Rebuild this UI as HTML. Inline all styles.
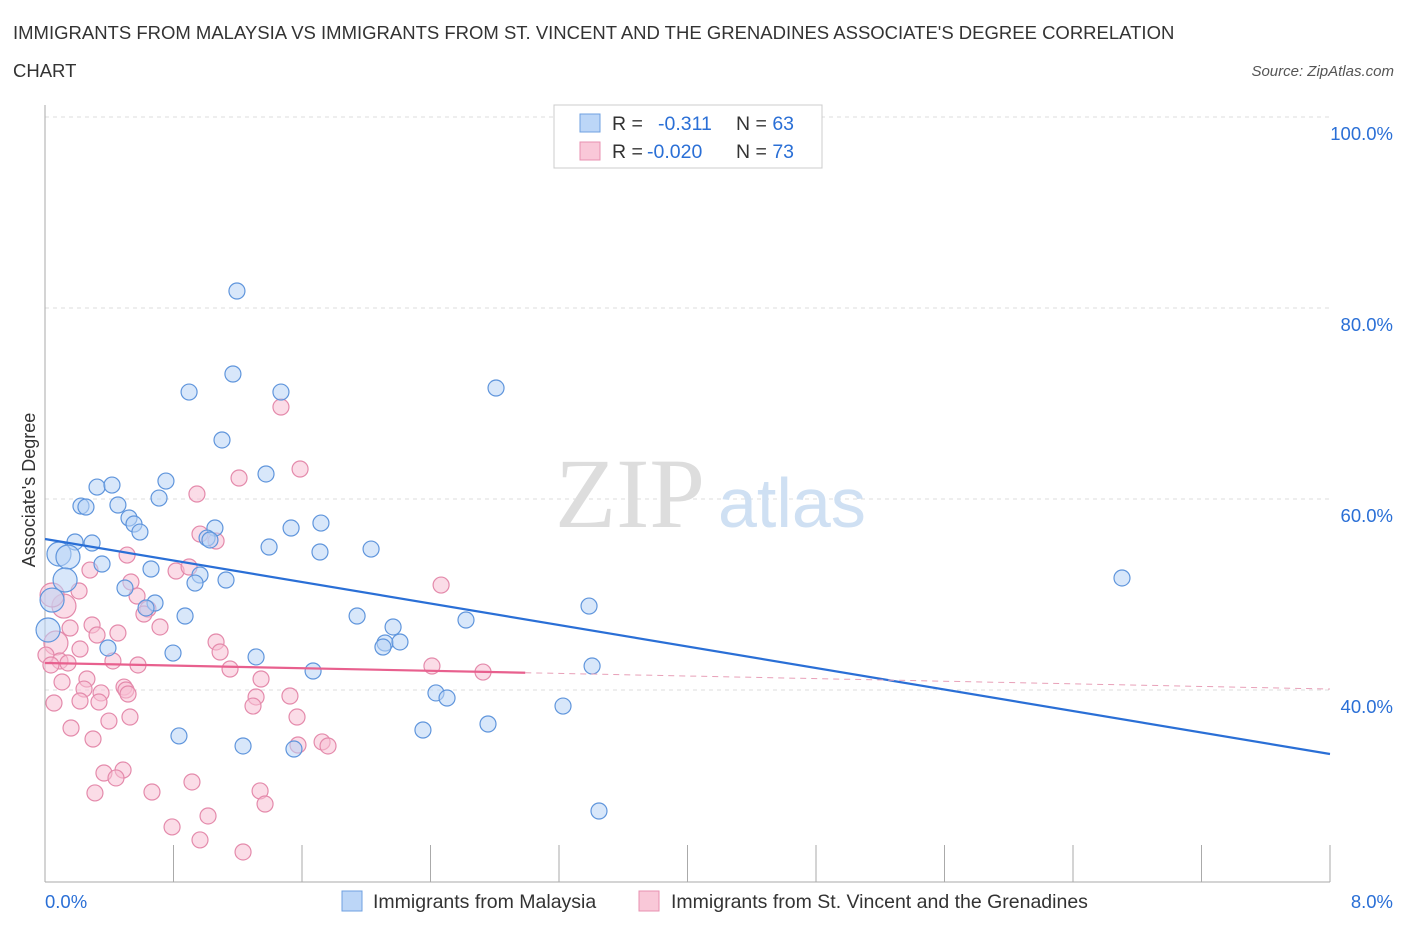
<!DOCTYPE html>
<html><head><meta charset="utf-8"><style>
body{margin:0;background:#fff;font-family:"Liberation Sans",sans-serif;}
</style></head><body>
<svg width="1406" height="930" xmlns="http://www.w3.org/2000/svg" font-family="Liberation Sans, sans-serif">
<text x="13" y="39" font-size="18.5" fill="#333">IMMIGRANTS FROM MALAYSIA VS IMMIGRANTS FROM ST. VINCENT AND THE GRENADINES ASSOCIATE'S DEGREE CORRELATION</text>
<text x="13" y="77" font-size="18.5" fill="#333">CHART</text>
<text x="1394" y="76" font-size="15" fill="#555" font-style="italic" text-anchor="end">Source: ZipAtlas.com</text>
<g id="grid"></g>
<text x="555" y="527" font-size="100" fill="#ddd" font-family="Liberation Serif, serif">ZIP</text>
<text x="718" y="527" font-size="70" fill="#cfe0f3">atlas</text>
<g id="marks"></g>
<text x="-490" y="35" transform="rotate(-90)" font-size="18" fill="#333" text-anchor="middle">Associate's Degree</text>
<g>
<rect x="554" y="105" width="268" height="63" fill="#fff" stroke="#ccc"/>
<rect x="580" y="114" width="20" height="18" fill="#bcd6f7" stroke="#6fa0e0"/>
<rect x="580" y="142" width="20" height="18" fill="#f9c8d8" stroke="#e891b0"/>
<text x="612" y="130" font-size="19.5" fill="#333">R = <tspan fill="#2a6fd6" x="658">-0.311</tspan><tspan fill="#333" x="736">N = </tspan><tspan fill="#2a6fd6">63</tspan></text>
<text x="612" y="158" font-size="19.5" fill="#333">R = <tspan fill="#2a6fd6" x="647">-0.020</tspan><tspan fill="#333" x="736">N = </tspan><tspan fill="#2a6fd6">73</tspan></text>
</g>
<text x="45" y="908" font-size="18.5" fill="#2a6fd6">0.0%</text>
<text x="1393" y="908" font-size="18.5" fill="#2a6fd6" text-anchor="end">8.0%</text>
<rect x="342" y="891" width="20" height="20" fill="#bcd6f7" stroke="#6fa0e0"/>
<text x="373" y="908" font-size="19.5" fill="#333">Immigrants from Malaysia</text>
<rect x="639" y="891" width="20" height="20" fill="#f9c8d8" stroke="#e891b0"/>
<text x="671" y="908" font-size="19.5" fill="#333">Immigrants from St. Vincent and the Grenadines</text>
</svg>
<script>
const yTicks=[40,60,80,100];
const yTickLabels=["40.0%","60.0%","80.0%","100.0%"];
const xTicks=[0,0.8,1.6,2.4,3.2,4.0,4.8,5.6,6.4,7.2,8.0];
const blueX=[1.195,1.17,0.897,1.469,2.808,1.102,0.753,1.376,0.324,0.417,0.71,0.454,0.224,0.255,0.523,0.554,0.591,1.058,1.532,1.718,1.009,1.027,0.187,0.293,1.395,1.712,2.03,0.087,0.143,0.355,0.66,0.965,0.934,1.127,0.125,0.498,0.685,0.629,0.044,0.872,1.943,2.621,3.387,2.167,2.117,2.104,2.21,0.392,0.797,1.314,1.669,3.406,2.434,2.503,3.225,2.353,2.758,0.834,1.233,1.55,3.449,6.705,0.019];
const blueY=[81.78,73.09,71.2,71.2,71.62,66.18,61.88,62.62,61.25,61.46,60.1,59.37,59.26,59.16,58.01,57.38,56.54,56.96,56.96,57.48,55.91,55.71,55.5,55.39,54.97,54.45,54.76,54.24,53.93,53.19,52.67,52.04,51.2,51.52,51.52,50.68,49.11,48.59,49.42,47.75,47.75,47.33,48.79,46.6,44.92,44.5,45.03,44.4,43.87,43.46,41.99,42.51,39.69,39.16,38.32,35.81,36.44,35.19,34.14,33.82,27.33,51.73,46.28];
const pinkX=[1.469,1.588,1.208,0.946,0.965,0.511,1.065,0.28,0.535,0.816,0.897,2.466,0.212,0.118,0.044,0.573,0.641,0.616,0.716,0.293,0.156,0.324,0.454,1.065,0.068,1.09,0.218,0.093,0.143,0.423,0.579,1.152,2.409,2.727,0.006,0.037,0.106,0.261,1.345,0.492,0.349,0.243,0.336,0.504,0.517,1.314,1.525,1.295,0.056,0.218,0.398,0.529,1.569,0.162,0.299,1.725,1.762,1.575,0.486,0.367,0.442,1.339,0.666,0.915,0.311,1.37,1.015,0.791,0.965,1.233];
const pinkY=[69.63,63.14,62.2,60.52,56.33,54.13,55.6,52.56,51.31,52.46,52.88,50.99,50.37,48.79,49.95,49.84,48.48,47.96,46.6,46.81,46.49,45.76,45.97,45.03,44.92,43.98,44.29,43.04,42.83,43.04,42.62,42.2,42.51,41.88,43.66,42.62,40.84,41.15,41.15,40.31,39.69,40.1,38.74,40,39.58,39.27,39.37,38.32,38.64,38.85,36.75,37.17,37.17,36.02,34.87,34.56,34.14,34.24,31.62,31.31,30.79,29.43,29.32,30.37,29.22,28.06,26.81,25.66,24.3,23.04];
const blueTrend=[55.81,33.30];
const pinkTrend=[42.83,40.10];
const pinkSolidEnd=2.99;
const X0=45,X1=1330,YBASE=690,YPX=9.55;
function sx(v){return X0+(v/8)*(X1-X0);}
function sy(v){return YBASE-(v-40)*YPX;}
const NS="http://www.w3.org/2000/svg";
function mk(tag,attrs,parent){const e=document.createElementNS(NS,tag);for(const k in attrs)e.setAttribute(k,attrs[k]);parent.appendChild(e);return e;}
const grid=document.getElementById('grid'),marks=document.getElementById('marks');
yTicks.forEach((t,i)=>{
 const l=mk('line',{x1:45,x2:1330,y1:sy(t),y2:sy(t),stroke:'#ddd','stroke-dasharray':'4,4'},grid);
 
 
 const tx=mk('text',{x:1393,y:sy(t)+23,'font-size':18.5,fill:'#2a6fd6','text-anchor':'end'},grid);
 tx.textContent=yTickLabels[i];
 
 
});
const ax=mk('line',{x1:45,x2:45,y1:105,y2:882,stroke:'#aaa'},grid);


const bx=mk('line',{x1:45,x2:1330,y1:882,y2:882,stroke:'#aaa'},grid);


xTicks.forEach(t=>{
 const l=mk('line',{x1:sx(t),x2:sx(t),y1:845,y2:882,stroke:'#aaa'},grid);
 
 
});
function dots(xs,ys,fill,stroke,name){
 xs.forEach((x,i)=>{
  const big=(x<0.15&&ys[i]>44&&ys[i]<56);
  const c=mk('circle',{cx:sx(x),cy:sy(ys[i]),r:big?12:8,fill:fill,'fill-opacity':0.55,stroke:stroke,'stroke-width':1.2},marks);
  
  
 });
}
dots(pinkX,pinkY,'#f7c0d3','#e48aab','point-stvincent');
dots(blueX,blueY,'#b8d3f5','#5f95dc','point-malaysia');
const tb=mk('line',{x1:sx(0),y1:sy(blueTrend[0]),x2:sx(8),y2:sy(blueTrend[1]),stroke:'#2a6fd6','stroke-width':2.2},marks);


const pe=pinkTrend[0]+(pinkTrend[1]-pinkTrend[0])*pinkSolidEnd/8;
const tp=mk('line',{x1:sx(0),y1:sy(pinkTrend[0]),x2:sx(pinkSolidEnd),y2:sy(pe),stroke:'#e8608e','stroke-width':2.2},marks);


const tpd=mk('line',{x1:sx(pinkSolidEnd),y1:sy(pe),x2:sx(8),y2:sy(pinkTrend[1]),stroke:'#e8a0b8','stroke-width':1,'stroke-dasharray':'6,5'},marks);


</script>
</body></html>
